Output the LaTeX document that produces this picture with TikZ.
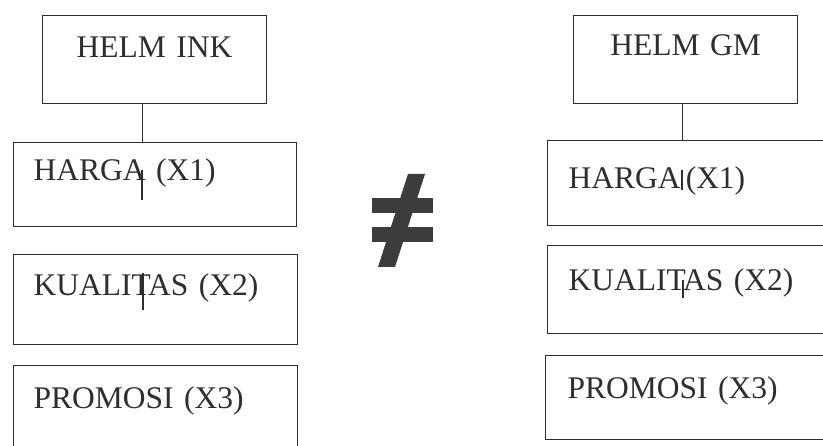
\documentclass[tikz,border=0pt]{standalone}
\usepackage{fontspec}
\setmainfont{Liberation Serif}
\usepackage{tikz}
\usetikzlibrary{positioning}
\definecolor{scanink}{HTML}{2E2E2E}
\definecolor{neqink}{HTML}{3C3C3C}

\begin{document}
\begin{tikzpicture}[x=1pt, y=-1pt,
  helmbox/.style={draw=scanink, line width=1.1pt, rectangle, anchor=north west,
    inner xsep=0pt, inner ysep=0pt, minimum width=224pt, align=center, text width=224pt,
    font=\fontsize{31.5}{36}\selectfont, text=scanink},
  itembox/.style={draw=scanink, line width=1.1pt, rectangle, anchor=north west,
    inner xsep=20pt, inner ysep=0pt, align=left,
    font=\fontsize{31.5}{36}\selectfont, text=scanink},
  link/.style={scanink, line width=1.1pt}]
  \clip (0,0) rectangle (823,446);
  \fill[white] (0,0) rectangle (823,446);
  % left column
  \node[helmbox, text height=42pt, text depth=46pt] (inkhead) at (42,15) {HELM INK};
  \node[itembox, text width=243pt, text height=38pt, text depth=46pt] (inkharga) at (13,142) {HARGA (X1)};
  \node[itembox, text width=244pt, text height=41pt, text depth=49pt] (inkkual) at (13,254) {KUALITAS (X2)};
  \node[itembox, text width=244pt, text height=43pt, text depth=90pt] (inkpromo) at (13,365) {PROMOSI (X3)};
  \draw[link] ([xshift=-12pt]inkhead.south) -- ([xshift=-12pt]inkhead.south |- inkharga.north);
  \draw[link] (inkharga.north west) ++(129,28) -- ++(0,30);
  \draw[link] (inkkual.north west) ++(130,19) -- ++(0,37);
  % right column
  \node[helmbox, text height=40pt, text depth=48pt] (gmhead) at (573,15) {HELM GM};
  \node[itembox, inner xsep=21pt, text width=280pt, text height=48pt, text depth=37pt] (gmharga) at (547,140) {HARGA\,(X1)};
  \node[itembox, inner xsep=21pt, text width=280pt, text height=45pt, text depth=43pt] (gmkual) at (547,245) {KUALITAS (X2)};
  \node[itembox, inner xsep=22pt, text width=280pt, text height=43pt, text depth=41pt] (gmpromo) at (545,355) {PROMOSI (X3)};
  \draw[link] ([xshift=-3pt]gmhead.south) -- ([xshift=-3pt]gmhead.south |- gmharga.north);
  \draw[link] (gmharga.north west) ++(135,30) -- ++(0,20);
  \draw[link] (gmkual.north west) ++(136,35) -- ++(0,18);
  % not equal sign
  \fill[neqink] (372,198) rectangle (433,213);
  \fill[neqink] (372,227) rectangle (433,242);
  \fill[neqink] (408,174) -- (425,174) -- (395,267) -- (378,267) -- cycle;
\end{tikzpicture}
\end{document}
